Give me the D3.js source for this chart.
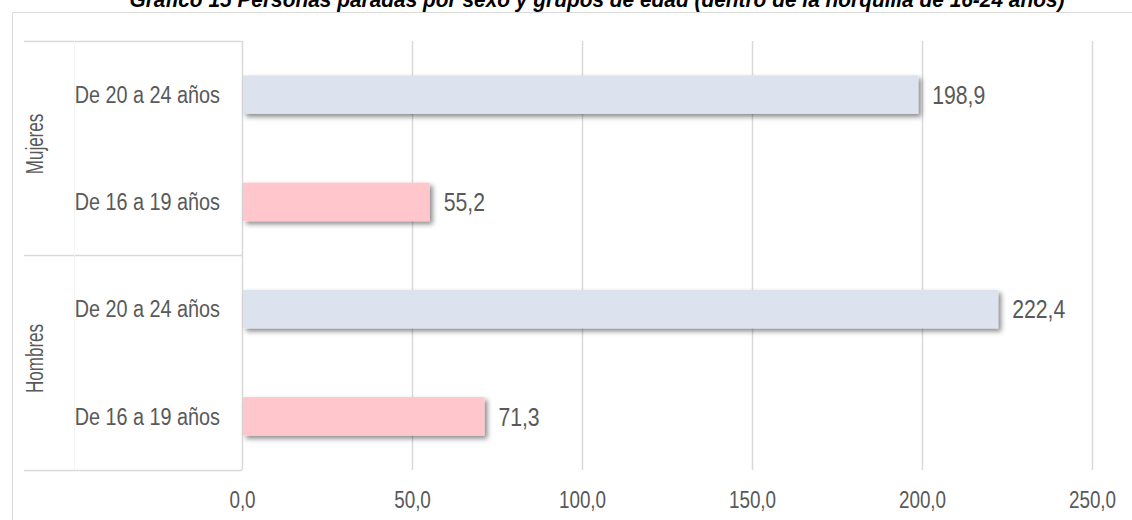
<!DOCTYPE html>
<html>
<head>
<meta charset="utf-8">
<script src="https://cdn.jsdelivr.net/npm/d3@7"></script>
<style>
  body { margin: 0; background: #fff; }
  svg text { font-family: "Liberation Sans", Arial, sans-serif; }
</style>
</head>
<body>
<script>
// Datos: personas paradas (miles) por sexo y grupo de edad
const groups = ["Mujeres", "Hombres"];
const ages = ["De 20 a 24 años", "De 16 a 19 años"];
const mujeres = [198.9, 55.2];
const hombres = [222.4, 71.3];
const xTicks = [0, 50, 100, 150, 200, 250];
const title = "Gráfico 15 Personas paradas por sexo y grupos de edad (dentro de la horquilla de 16-24 años)";

const width = 1132, height = 520;

// one row per bar, top to bottom
const rows = [];
groups.forEach((g, gi) => {
	const vals = gi === 0 ? mujeres : hombres;
	ages.forEach((a, ai) => rows.push({ group: g, age: a, value: vals[ai], key: g + "|" + a }));
});

// squeeze Arial-metric text to look like Arial Narrow
function narrow(sel, k) {
	sel.each(function () {
		const w = this.getComputedTextLength();
		d3.select(this).attr("textLength", w * k).attr("lengthAdjust", "spacingAndGlyphs");
	});
}

const svg = d3.select("body")
	.append("svg")
	.attr("width", width)
	.attr("height", height);

// shadow under the bars
const defs = svg.append("defs");
const f = defs.append("filter").attr("id", "shadow")
	.attr("x", "-5%").attr("y", "-30%").attr("width", "120%").attr("height", "180%");
f.append("feDropShadow")
	.attr("dx", 3).attr("dy", 3).attr("stdDeviation", 2.5)
	.attr("flood-color", "#000").attr("flood-opacity", 0.45);

const x = d3.scaleLinear().domain([0, 250]).range([242, 1092]);
const y = d3.scaleBand().domain(rows.map(d => d.key)).range([41, 470]).paddingInner(0.64).paddingOuter(0.32);

// outer border of the chart box
svg.append("path")
	.attr("d", `M12.5,${height} V12.5 H${width}`)
	.attr("fill", "none")
	.attr("stroke", "#d9d9d9");

// title (cut at the top, as in the original)
svg.append("text")
	.attr("x", 597)
	.attr("y", 7)
	.attr("text-anchor", "middle")
	.attr("font-size", 22)
	.attr("font-weight", "bold")
	.attr("font-style", "italic")
	.attr("fill", "#000")
	.attr("textLength", 935)
	.attr("lengthAdjust", "spacingAndGlyphs")
	.text(title);

// vertical gridlines
svg.append("g")
	.selectAll("line")
	.data(xTicks.slice(1))
	.join("line")
	.attr("x1", d => Math.round(x(d)) + 0.5)
	.attr("x2", d => Math.round(x(d)) + 0.5)
	.attr("y1", 41)
	.attr("y2", 470)
	.attr("stroke", "#d9d9d9")
	.attr("stroke-width", 1.5);

// category table (group / age) lines
const tbl = svg.append("g").attr("stroke", "#d9d9d9").attr("fill", "none");
const groupEdges = [41, 255, 470];
tbl.selectAll("line.h")
	.data(groupEdges)
	.join("line")
	.attr("x1", 24).attr("x2", 242)
	.attr("y1", d => d + 0.5).attr("y2", d => d + 0.5)
	.attr("stroke-width", 1.5);
tbl.append("line")
	.attr("x1", 242.5).attr("x2", 242.5).attr("y1", 41).attr("y2", 470)
	.attr("stroke-width", 1.5);
tbl.append("line")
	.attr("x1", 74.5).attr("x2", 74.5).attr("y1", 41).attr("y2", 470)
	.attr("stroke", "#f4f4f4");

// bars
svg.append("g")
	.selectAll("rect")
	.data(rows)
	.join("rect")
	.attr("x", x(0) + 1)
	.attr("y", d => y(d.key))
	.attr("width", d => x(d.value) - x(0) - 1)
	.attr("height", y.bandwidth())
	.attr("fill", d => d.age === ages[0] ? "#dce3ef" : "#ffc7cb")
	.attr("filter", "url(#shadow)");

// value labels
svg.append("g")
	.selectAll("text")
	.data(rows)
	.join("text")
	.attr("x", d => x(d.value) + 14)
	.attr("y", d => y(d.key) + y.bandwidth() / 2)
	.attr("dy", "0.36em")
	.attr("font-size", 26)
	.attr("fill", "#595959")
	.text(d => d3.format(".1f")(d.value).replace(".", ","))
	.call(narrow, 0.815);

// age labels
svg.append("g")
	.selectAll("text")
	.data(rows)
	.join("text")
	.attr("x", 220)
	.attr("y", d => y(d.key) + y.bandwidth() / 2)
	.attr("dy", "0.36em")
	.attr("text-anchor", "end")
	.attr("font-size", 23)
	.attr("fill", "#595959")
	.text(d => d.age)
	.call(narrow, 0.86);

// group labels (rotated)
svg.append("g")
	.selectAll("text")
	.data(groups)
	.join("text")
	.attr("transform", (d, i) => `translate(43,${(groupEdges[i] + groupEdges[i + 1]) / 2 - 4}) rotate(-90)`)
	.attr("text-anchor", "middle")
	.attr("font-size", 23)
	.attr("fill", "#595959")
	.text(d => d)
	.call(narrow, 0.74);

// x axis tick labels
const xAxis = d3.axisBottom(x)
	.tickValues(xTicks)
	.tickSize(0)
	.tickPadding(0)
	.tickFormat(d => d3.format(".1f")(d).replace(".", ","));
const ax = svg.append("g")
	.attr("transform", "translate(0,492)")
	.call(xAxis);
ax.select(".domain").remove();
ax.attr("font-family", null).attr("font-size", null);
ax.selectAll("text")
	.attr("dy", "0.71em")
	.attr("font-size", 23)
	.attr("fill", "#595959")
	.call(narrow, 0.82);
</script>
</body>
</html>
